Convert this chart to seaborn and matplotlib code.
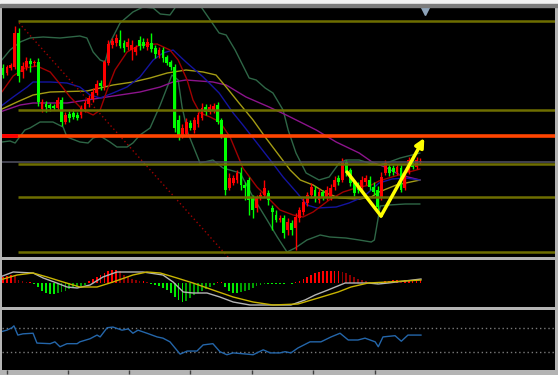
import numpy as np
import pandas as pd
import matplotlib
matplotlib.use('Agg')
import matplotlib.pyplot as plt
import matplotlib.transforms as mtransforms
from matplotlib.patches import Rectangle
import seaborn as sns

sns.set_theme(style='dark')

# ---- price candles, one entry per bar ----
opens = [192, 187, 192, 193, 227, 188, 193, 199, 197, 198,
         151, 156, 155, 154, 152, 160, 138, 146, 147, 145,
         145, 151, 156, 161, 167, 177, 174, 197, 215, 217,
         220, 217, 213, 210, 208, 220, 218, 213, 217, 212,
         205, 210, 203, 198, 193, 140, 125, 126, 137, 130,
         136, 142, 153, 148, 149, 155, 140, 123, 72, 77,
         80, 87, 75, 80, 63, 52, 62, 65, 67, 52,
         45, 40, 42, 30, 37, 32, 42, 48, 57, 65,
         70, 60, 68, 63, 63, 73, 82, 80, 98, 90,
         77, 75, 73, 78, 80, 73, 70, 62, 87, 93,
         92, 88, 92, 72, 88, 100, 93, 98]
closes = [185, 193, 195, 227, 184, 194, 199, 196, 198, 158,
          158, 153, 152, 152, 160, 138, 145, 142, 143, 142,
          152, 157, 162, 168, 176, 174, 198, 216, 219, 222,
          214, 212, 218, 215, 213, 214, 214, 218, 211, 206,
          210, 202, 197, 193, 132, 125, 132, 138, 132, 140,
          145, 152, 148, 153, 154, 138, 125, 70, 82, 82,
          87, 75, 72, 60, 50, 62, 65, 72, 60, 48,
          40, 42, 27, 38, 30, 43, 50, 58, 65, 73,
          62, 68, 63, 70, 72, 80, 78, 98, 87, 77,
          67, 70, 80, 82, 73, 68, 53, 83, 97, 87,
          88, 93, 70, 83, 100, 93, 100, 99]
highs = [196, 195, 197, 234, 232, 198, 203, 202, 200, 202,
         161, 159, 157, 156, 163, 163, 148, 149, 151, 148,
         155, 160, 165, 172, 180, 180, 200, 220, 222, 226,
         230, 220, 222, 220, 215, 224, 222, 222, 227, 215,
         213, 213, 205, 200, 196, 145, 136, 142, 140, 143,
         148, 157, 156, 156, 157, 158, 142, 126, 87, 85,
         90, 93, 78, 83, 65, 65, 68, 80, 70, 55,
         50, 45, 45, 42, 40, 47, 53, 62, 68, 77,
         74, 72, 70, 74, 76, 84, 85, 102, 100, 92,
         80, 78, 84, 85, 84, 78, 74, 88, 100, 96,
         95, 96, 95, 87, 103, 102, 103, 102]
lows = [182, 185, 190, 191, 178, 182, 190, 188, 194, 154,
        148, 148, 149, 150, 150, 134, 136, 138, 141, 140,
        142, 148, 153, 158, 165, 170, 170, 195, 212, 214,
        212, 208, 210, 200, 205, 210, 212, 210, 208, 202,
        202, 198, 195, 190, 128, 120, 122, 124, 130, 127,
        133, 140, 145, 146, 147, 136, 122, 65, 70, 75,
        77, 70, 60, 45, 42, 48, 60, 63, 55, 30,
        38, 38, 22, 25, 25, 10, 38, 45, 54, 62,
        58, 57, 60, 60, 60, 70, 75, 78, 84, 74,
        64, 67, 70, 75, 70, 65, 50, 60, 85, 84,
        85, 85, 68, 70, 86, 91, 91, 96]

# ---- indicator lines (bar, value) ----
bb_up_bar = [-0.3, 1.8, 4.4, 6.9, 10.3, 14.6, 19.7, 21.5, 23.1, 24.9, 26.2, 27.4, 30, 33.3, 35.9,
             38.5, 40.3, 42.8, 44.6, 47.4, 50.8, 53.1, 55.4, 57.2, 59.5, 63.1, 64.9, 67.2, 69.2,
             71.8, 73.1, 75.1, 77.7, 81, 83.6, 86.2, 87.9, 91.3, 93.8, 96.4, 99, 101.8, 106.9]
bb_up_val = [200, 210, 218, 222, 223, 222, 224, 222, 208, 200, 198, 217, 237, 248, 253,
             252, 246, 245, 255, 265, 253, 240, 227, 225, 210, 182, 180, 172, 167,
             150, 130, 107, 87, 80, 83, 97, 100, 100, 97, 95, 98, 102, 107]
bb_lo_bar = [-0.3, 1.8, 3.1, 5.6, 6.9, 9.5, 12.8, 15.4, 16.4, 19.7, 21.8, 23.1, 24.9, 27.4, 29.2,
             31.8, 33.3, 35.1, 37.7, 40.3, 43.3, 44.9, 45.9, 47.4, 50.5, 53.8, 56.4, 60.8, 64.1,
             67.7, 70.3, 72.8, 74.9, 77.9, 81.3, 83.8, 87.9, 91.3, 94.4, 95.2, 96.7, 99, 103.1, 106.9]
bb_lo_val = [118, 119, 117, 130, 132, 138, 138, 133, 123, 118, 117, 122, 124, 118, 113,
             113, 117, 125, 132, 155, 185, 180, 153, 127, 97, 100, 92, 87, 63,
             40, 23, 8, 12, 20, 25, 23, 22, 20, 18, 20, 54, 55, 56, 56]
ma_red_bar = [-0.3, 2.6, 5.6, 8.7, 12.1, 14.6, 17.2, 20.5, 23.1, 24.9, 26.7, 28.7, 31.8, 35.1, 39.5,
              42.8, 44.9, 47.2, 48.7, 50.5, 53.1, 55.6, 58.2, 61.5, 65.1, 67.7, 71, 74.4, 76.9,
              79.5, 83.6, 87.2, 91.3, 94.4, 96.4, 99.7, 103.1, 106.9]
ma_red_val = [168, 184, 192, 194, 188, 176, 163, 150, 145, 150, 170, 190, 208, 215, 216,
              210, 200, 180, 160, 147, 143, 138, 123, 92, 73, 63, 50, 45, 43,
              48, 60, 68, 73, 75, 79, 83, 87, 91]
ma_blue_bar = [-0.8, 2.6, 6.2, 7.7, 12.1, 16.4, 19.7, 22.3, 24.9, 28.2, 31.8, 35.1, 38.5, 41, 43.6,
               46.9, 51.3, 55.4, 59, 61.5, 65.1, 68.5, 71.8, 75.4, 77.9, 80.5, 85.4, 88.7, 92.3,
               94.4, 96.4, 99.7, 103.1, 106.9]
ma_blue_val = [153, 163, 173, 178, 178, 177, 173, 165, 162, 167, 173, 183, 200, 207, 210,
               198, 183, 167, 147, 135, 117, 100, 83, 67, 55, 52, 53, 57, 63,
               70, 77, 81, 82, 80]
ma_olive_bar = [-0.8, 3.6, 7.7, 12.1, 21.5, 24.9, 28.2, 33.3, 37.7, 42.1, 46.9, 51.3, 54.6, 57.2,
                60.5, 64.1, 67.2, 70.3, 73.6, 76.2, 79.5, 82.8, 86.2, 91.3, 94.4, 96.4, 100.8, 106.9]
ma_olive_val = [150, 158, 165, 168, 169, 172, 175, 178, 182, 187, 190, 188, 185, 173,
                157, 140, 123, 107, 90, 80, 75, 67, 62, 61, 63, 68, 75, 80]
ma_purple_bar = [-0.8, 4.4, 7.7, 16.4, 21.5, 24.9, 30, 35.1, 40.3, 43.6, 46.9, 53.8, 57.2, 62.3,
                 68.2, 72.6, 80.3, 85.4, 91.3, 94.6, 97.9, 101.8, 106.9]
ma_purple_val = [148, 155, 157, 157, 160, 162, 165, 168, 173, 178, 180, 178, 175, 163,
                 153, 145, 130, 118, 107, 98, 93, 85, 80]

# horizontal levels and drawn objects
olive_levels = [239, 150.5, 96.3, 62.7, 8]
gray_level = 98.3
red_level = 124
diag_bar = [4.1, 59.5]
diag_val = [237, -5]
arrow_bar = [88.2, 96.9, 108.0]
arrow_val = [88, 44, 122]

# ---- MACD ----
macd_hist = [6, 7, 8, 7, 3, 2, 1, 1, -1, -4,
             -8, -10, -11, -11, -10, -9, -8, -6, -5, -4,
             -3, -2, 2, 4, 6, 8, 10, 12, 13, 13,
             12, 8, 6, 4, 3, 2, 2, 1, -1, -2,
             -3, -5, -7, -10, -14, -17, -19, -18, -15, -12,
             -10, -8, -6, -4, -2, 1, 1, -4, -8, -10,
             -10, -9, -8, -7, -5, -3, -2, -1, -1, -1,
             -1, -1, -1, 0.5, -0.5, 1, 2, 4, 6, 8,
             10, 11, 12, 12, 12, 12, 12, 11, 10, 8,
             6, 4, 3, 2, 1, 0.5, -1, 1, 2, 2,
             3, 3, 2, 3, 3, 3, 3, 3]
macd_bar = [-0.8, 2.6, 7.7, 10.3, 13.8, 16.4, 19, 22.3, 25.6, 29.2, 35.9, 41, 43.6, 46.2, 48.7,
            52.3, 55.6, 59, 63.3, 67.7, 73.8, 77.4, 80, 83.3, 87.7, 93.6, 96.2, 98.7, 107.2]
macd_val = [6, 11, 10, 5, 0, -4, -5, -2, 6, 11, 11, 8, 1, -9, -10,
            -10, -14, -19, -22, -22, -22, -17, -12, -7, 0, 0, -1, 0, 4]
signal_bar = [-0.8, 3.6, 7.7, 11.3, 15.4, 19.7, 24.1, 28.2, 33.3, 36.9, 40.3, 44.6, 48.7, 53.8,
              59, 64.1, 69.2, 75.6, 80.8, 85.9, 89.2, 93.6, 98.7, 107.2]
signal_val = [3, 8, 10, 6, 1, -4, -4, 1, 8, 11, 10, 5, 0, -7,
              -14, -19, -22, -21, -15, -9, -4, 0, 1, 3]

# ---- RSI ----
rsi_bar = [-0.8, 1.0, 2.3, 2.8, 3.8, 5.1, 7.7, 8.7, 12.1, 13.3, 14.6, 16.4, 19.0, 19.7, 22.3,
           24.1, 24.9, 26.7, 28.2, 30.5, 32.1, 33.3, 34.6, 36.9, 39.5, 41.0, 42.8, 45.4, 47.2,
           49.7, 51.3, 53.8, 55.6, 57.4, 59.0, 62.6, 64.1, 66.7, 68.5, 71.0, 72.3, 73.8, 75.6,
           78.7, 81.5, 84.1, 86.4, 88.5, 91.0, 92.8, 95.4, 96.2, 97.4, 100.5, 102.1, 103.8, 107.2]
rsi_val = [63, 66, 70, 73, 58, 60, 61, 45, 44, 47, 39, 44, 44, 47, 52,
           58, 55, 70, 71, 66, 68, 61, 66, 61, 55, 53, 47, 27, 32,
           32, 42, 44, 31, 26, 29, 27, 26, 34, 29, 29, 31, 29, 37,
           47, 47, 55, 61, 50, 50, 53, 47, 39, 55, 57, 48, 58, 58]
rsi_levels = [70, 30]
time_ticks = [1.0, 16.7, 32.3, 47.9, 63.8, 79.5, 95.4]

df = pd.DataFrame({'open': opens, 'close': closes, 'high': highs, 'low': lows})
df['bar'] = np.arange(len(df))
df['color'] = np.where(df['close'] >= df['open'], '#ff0000', '#00ff00')
df['body'] = (df['close'] - df['open']).where((df['close'] - df['open']).abs() >= 1, 1)

W, H = 558, 375
XMIN, XMAX = -0.26, 141.5

fig = plt.figure(figsize=(W / 100, H / 100), dpi=100, facecolor='#b4b4b4')
fig.patches.append(Rectangle((0, 1 - 4 / H), 1, 4 / H, transform=fig.transFigure,
                             color='#f2f2f2', zorder=0))
fig.patches.append(Rectangle((0, 1 - 6.5 / H), 1, 2.5 / H, transform=fig.transFigure,
                             color='#7c7c7c', zorder=0))


def panel(top, bottom):
    a = fig.add_axes([2 / W, 1 - bottom / H, 553 / W, (bottom - top) / H])
    a.set_facecolor('black')
    for s in a.spines.values():
        s.set_visible(False)
    a.grid(False)
    a.set_xlim(XMIN, XMAX)
    a.set_xticks([])
    a.set_yticks([])
    a.set_xlabel('')
    a.set_ylabel('')
    return a


def line(a, xs, ys, color, lw=1.0, **kw):
    sns.lineplot(x=xs, y=ys, ax=a, color=color, lw=lw, sort=False,
                 estimator=None, legend=False, **kw)


ax = panel(6.5, 256.5)
ax2 = panel(259.5, 307)
ax3 = panel(309.5, 369.5)

# main chart
ax.set_ylim(3.5, 253.5)
line(ax, bb_up_bar, bb_up_val, '#2e6646', 1.0)
line(ax, bb_lo_bar, bb_lo_val, '#2e6646', 1.0)
line(ax, ma_purple_bar, ma_purple_val, '#8c148c', 1.0)
line(ax, ma_olive_bar, ma_olive_val, '#a49c14', 1.0)
line(ax, ma_blue_bar, ma_blue_val, '#1414a0', 1.0)
line(ax, ma_red_bar, ma_red_val, '#a00000', 1.0)
line(ax, diag_bar, diag_val, '#a00000', 1.0, linestyle=(0, (1, 2)))

ax.vlines(df['bar'], df['low'], df['high'], colors=df['color'], lw=1, zorder=3)
ax.bar(df['bar'], df['body'], bottom=df['open'], width=0.72, color=df['color'],
       linewidth=0, zorder=3)

ax.axhline(gray_level, color='#4c4c5c', lw=1.2, zorder=4)
ax.hlines(olive_levels, 3.8, XMAX, color='#6e6e00', lw=1.8, zorder=4)
ax.axhline(red_level, color='#ff4400', lw=2.6, zorder=4)
ax.hlines(red_level, XMIN, 3.8, color='#ff0000', lw=2.6, zorder=4)

line(ax, arrow_bar[:2], arrow_val[:2], '#ffff00', 2.5)
ax.lines[-1].set_zorder(5)
ax.annotate('', xy=(arrow_bar[2], arrow_val[2]), xytext=(arrow_bar[1], arrow_val[1]),
            arrowprops=dict(arrowstyle='-|>', color='#ffff00', lw=2.5,
                            mutation_scale=13, shrinkA=0, shrinkB=0), zorder=5)

trans = mtransforms.blended_transform_factory(ax.transData, ax.transAxes)
ax.plot([108.3], [0.985], marker='v', color='#8ea4ba', markersize=7,
        transform=trans, clip_on=False, zorder=6)

# MACD
ax2.set_ylim(-24, 23.5)
hist = np.array(macd_hist, dtype=float)
prev = np.concatenate([[0], hist[:-1]])
hcol = np.where(hist >= 0, np.where(hist >= prev, '#ff0000', '#8b0000'),
                np.where(hist <= prev, '#00ee00', '#00a000'))
ax2.bar(np.arange(len(hist)), hist, width=0.45, color=hcol, linewidth=0)
line(ax2, macd_bar, macd_val, '#b4b4b4', 1.0)
line(ax2, signal_bar, signal_val, '#c8b400', 1.0)

# RSI
ax3.set_ylim(2, 99.6)
ax3.hlines(rsi_levels, XMIN, XMAX, color='#7a7a7a', lw=1, linestyle=(0, (1, 2)))
line(ax3, rsi_bar, rsi_val, '#2466aa', 1.0)
ax3.set_xticks(time_ticks)
ax3.set_xticklabels([])
ax3.tick_params(axis='x', direction='out', length=3, width=1, color='#404040', bottom=True)

fig.savefig('out.png', dpi=100, facecolor=fig.get_facecolor())
